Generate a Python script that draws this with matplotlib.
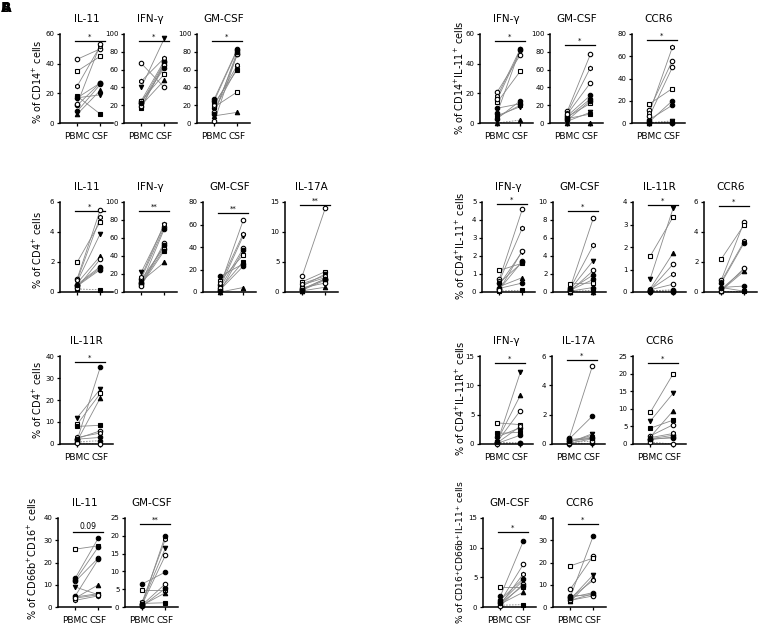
import matplotlib
matplotlib.use("Agg")
import matplotlib.pyplot as plt

# ---- data (PBMC vs CSF, one value per donor) ----
# left column
cd14_il11_pbmc = [43, 8, 35, 18, 6, 17, 25, 12, 13, 17]
cd14_il11_csf = [50, 26, 45, 6, 22, 19, 52, 27, 53, 27]
cd14_ifng_pbmc = [67, 25, 25, 17, 20, 40, 47, 22, 19, 23]
cd14_ifng_csf = [40, 70, 55, 67, 48, 95, 73, 68, 65, 62]
cd14_gmcsf_pbmc = [2, 27, 18, 22, 8, 15, 20, 25, 12, 10]
cd14_gmcsf_csf = [78, 83, 35, 60, 12, 62, 65, 82, 77, 80]

cd4_il11_pbmc = [0.9, 0.5, 2.0, 0.2, 0.6, 0.7, 0.8, 0.4, 0.3, 0.45]
cd4_il11_csf = [5.5, 1.7, 4.7, 0.15, 2.4, 3.9, 5.0, 1.5, 2.2, 1.6]
cd4_ifng_pbmc = [15, 10, 14, 8, 12, 22, 17, 9, 7, 11]
cd4_ifng_csf = [72, 48, 50, 46, 33, 74, 76, 70, 55, 52]
cd4_gmcsf_pbmc = [6, 14, 10, 3, 0, 5, 8, 2, 4, 1]
cd4_gmcsf_csf = [64, 25, 33, 27, 4, 50, 52, 23, 39, 37]
cd4_il17a_pbmc = [2.7, 0.5, 1.7, 1.2, 0.2, 1.0, 1.4, 0.3, 0.7, 0.4]
cd4_il17a_csf = [14, 2.2, 3.4, 2.4, 0.8, 3.0, 2.7, 2.0, 1.5, 2.2]

cd4_il11r_pbmc = [2.5, 2, 9, 8, 1.5, 12, 3, 1, 0.5, 2.2]
cd4_il11r_csf = [6, 35, 23, 8.5, 21, 25, 5, 1.5, 0, 3]

cd66_il11_pbmc = [11.5, 13, 26, 4.5, 4, 9, 3, 5, 4, 12]
cd66_il11_csf = [22, 31, 27.5, 6, 10, 5.5, 5, 21.5, 5.5, 27]
cd66_gmcsf_pbmc = [0.8, 6.5, 4.7, 1.0, 0.5, 1.2, 1.5, 0.3, 0.6, 0.9]
cd66_gmcsf_csf = [14.5, 9.8, 4.7, 1.2, 4.0, 16.5, 19, 5.2, 6.5, 20]

# right column
cd14il11_ifng_pbmc = [21, 3, 14, 4, 0, 5, 18, 10, 16, 7]
cd14il11_ifng_csf = [46, 15, 35, 12, 2, 11, 50, 13, 49, 50]
cd14il11_gmcsf_pbmc = [13, 8, 7, 5, 0, 2, 11, 6, 10, 3]
cd14il11_gmcsf_csf = [77, 31, 22, 10, 0, 12, 62, 27, 45, 25]
cd14il11_ccr6_pbmc = [12, 3, 17, 0.5, 0, 0, 9, 1, 6, 0.3]
cd14il11_ccr6_csf = [56, 16, 31, 1, 0.5, 2, 68, 20, 50, 0]

cd4il11_ifng_pbmc = [0.7, 0.2, 1.2, 0.05, 0.3, 0.4, 0.6, 0.15, 0.1, 0.5]
cd4il11_ifng_csf = [4.6, 0.5, 1.6, 0.1, 0.8, 2.25, 3.55, 1.7, 2.3, 1.65]
cd4il11_gmcsf_pbmc = [0.5, 0.1, 0.9, 0.05, 0, 0.3, 0.4, 0.2, 0.1, 0.3]
cd4il11_gmcsf_csf = [8.2, 0.5, 1.0, 0.2, 0, 3.5, 5.2, 1.4, 2.4, 1.9]
cd4il11_il11r_pbmc = [0.1, 0.05, 1.6, 0.08, 0.15, 0.6, 0.12, 0.02, 0.1, 0.05]
cd4il11_il11r_csf = [1.25, 0.1, 3.35, 0.05, 1.75, 3.75, 0.8, 0.02, 0.35, 0.05]
cd4il11_ccr6_pbmc = [0.8, 0.3, 2.2, 0.05, 0.1, 0.2, 0.7, 0.6, 0.1, 0.3]
cd4il11_ccr6_csf = [4.7, 0.4, 4.5, 0.05, 1.4, 1.5, 3.4, 3.3, 1.6, 0.05]

cd4il11r_ifng_pbmc = [0.4, 1.2, 3.6, 1.8, 0.6, 0.3, 0.2, 0.1, 0, 0.3]
cd4il11r_ifng_csf = [5.7, 2.8, 3.3, 2.0, 8.3, 12.2, 3.0, 1.5, 0.1, 0.2]
cd4il11r_il17a_pbmc = [0.4, 0.35, 0.3, 0.2, 0.15, 0.1, 0.05, 0, 0.1, 0.2]
cd4il11r_il17a_csf = [5.3, 1.9, 0.45, 0.4, 0.6, 0.7, 0.35, 0.05, 0.2, 0.4]
cd4il11r_ccr6_pbmc = [2.3, 1.5, 9, 4.5, 2, 6.5, 1.8, 1.2, 0.5, 1.5]
cd4il11r_ccr6_csf = [5.5, 2.5, 20, 6.8, 9.5, 14.5, 3, 2, 0, 1.7]

cd16il11_gmcsf_pbmc = [0.9, 1.8, 3.4, 0.3, 0.5, 0.7, 0.4, 1.2, 0.2, 0.6]
cd16il11_gmcsf_csf = [7.2, 11.1, 3.4, 0.4, 2.5, 4.5, 5.6, 4.8, 3.9, 3.6]
cd16il11_ccr6_pbmc = [8, 4.5, 18.5, 3, 2.5, 3.5, 4, 5, 3, 4.2]
cd16il11_ccr6_csf = [23, 32, 22, 6, 13, 14.5, 12, 5.5, 5, 6.5]

groups = ["PBMC", "CSF"]

# donor symbols (marker, face colour)
donor_style = [("o", "white"), ("o", "black"), ("s", "white"), ("s", "black"),
               ("^", "black"), ("v", "black"), ("h", "white"), ("o", "black"),
               ("o", "white"), ("o", "black")]

W, H = 767, 630
fig = plt.figure(figsize=(W / 100, H / 100), dpi=100)

rows = {1: (34, 123), 2: (202, 292), 3: (356, 444), 4: (518, 607)}


def panel(x0, row, pbmc, csf, ymax, step, title, sig, bar=0.92, labels=True):
    top, bot = rows[row]
    ax = fig.add_axes([x0 / W, 1 - bot / H, 53 / W, (bot - top) / H])
    for i, (a, b) in enumerate(zip(pbmc, csf)):
        dashed = max(a, b) < 0.04 * ymax
        ax.plot([0, 1], [a, b], color="#8a8a8a", lw=0.6,
                ls=(0, (2, 1.5)) if dashed else "-", zorder=1)
        m, fc = donor_style[i % len(donor_style)]
        ax.plot([0, 1], [a, b], ls="none", marker=m, ms=3.2, mfc=fc,
                mec="black", mew=0.8, clip_on=False, zorder=3)
    ax.set_xlim(-0.75, 1.55)
    ax.set_ylim(0, ymax)
    ticks = [step * k for k in range(int(round(ymax / step)) + 1)]
    ax.set_yticks(ticks)
    ax.set_yticklabels([f"{t:g}" for t in ticks], fontsize=5)
    ax.set_xticks([0, 1])
    ax.set_xticklabels(groups if labels else ["", ""], fontsize=6.5)
    for s in ("top", "right"):
        ax.spines[s].set_visible(False)
    for s in ("left", "bottom"):
        ax.spines[s].set_linewidth(1.1)
    ax.tick_params(length=2.5, width=0.9, pad=1.5)
    ax.tick_params(axis="x", pad=4)
    ax.set_title(title, fontsize=7.5, pad=9)
    yb = bar * ymax
    ax.plot([-0.1, 1.2], [yb, yb], color="black", lw=0.9, clip_on=False)
    ax.text(0.55, yb + 0.015 * ymax, sig, ha="center", va="bottom",
            fontsize=5 if sig != "0.09" else 5.5)
    return ax


def ylabel(x, yc, text, size=7):
    fig.text(x / W, 1 - yc / H, text, rotation=90,
             ha="center", va="center", fontsize=size)


# left column
panel(60, 1, cd14_il11_pbmc, cd14_il11_csf, 60, 20, "IL-11", "*")
panel(124, 1, cd14_ifng_pbmc, cd14_ifng_csf, 100, 20, "IFN-γ", "*")
panel(197, 1, cd14_gmcsf_pbmc, cd14_gmcsf_csf, 100, 20, "GM-CSF", "*")
ylabel(37, 82, "% of CD14$^{+}$ cells")

panel(60, 2, cd4_il11_pbmc, cd4_il11_csf, 6, 2, "IL-11", "*", 0.9, False)
panel(124, 2, cd4_ifng_pbmc, cd4_ifng_csf, 100, 20, "IFN-γ", "**", 0.9, False)
panel(203, 2, cd4_gmcsf_pbmc, cd4_gmcsf_csf, 80, 20, "GM-CSF", "**", 0.88, False)
panel(285, 2, cd4_il17a_pbmc, cd4_il17a_csf, 15, 5, "IL-17A", "**", 0.97, False)
ylabel(37, 250, "% of CD4$^{+}$ cells")

panel(60, 3, cd4_il11r_pbmc, cd4_il11r_csf, 40, 10, "IL-11R", "*", 0.93)
ylabel(37, 400, "% of CD4$^{+}$ cells")

panel(58, 4, cd66_il11_pbmc, cd66_il11_csf, 40, 10, "IL-11", "0.09", 0.84)
panel(125, 4, cd66_gmcsf_pbmc, cd66_gmcsf_csf, 25, 5, "GM-CSF", "**", 0.93)
ylabel(32, 558, "% of CD66b$^{+}$CD16$^{+}$ cells")

# right column
panel(480, 1, cd14il11_ifng_pbmc, cd14il11_ifng_csf, 60, 20, "IFN-γ", "*")
panel(550, 1, cd14il11_gmcsf_pbmc, cd14il11_gmcsf_csf, 100, 20, "GM-CSF", "*", 0.88)
panel(632, 1, cd14il11_ccr6_pbmc, cd14il11_ccr6_csf, 80, 20, "CCR6", "*", 0.93)
ylabel(459, 78, "% of CD14$^{+}$IL-11$^{+}$ cells")

panel(482, 2, cd4il11_ifng_pbmc, cd4il11_ifng_csf, 5, 1, "IFN-γ", "*", 0.98, False)
panel(553, 2, cd4il11_gmcsf_pbmc, cd4il11_gmcsf_csf, 10, 2, "GM-CSF", "*", 0.9, False)
panel(633, 2, cd4il11_il11r_pbmc, cd4il11_il11r_csf, 4, 1, "IL-11R", "*", 0.97, False)
panel(704, 2, cd4il11_ccr6_pbmc, cd4il11_ccr6_csf, 6, 2, "CCR6", "*", 0.96, False)
ylabel(460, 246, "% of CD4$^{+}$IL-11$^{+}$ cells")

panel(480, 3, cd4il11r_ifng_pbmc, cd4il11r_ifng_csf, 15, 5, "IFN-γ", "*", 0.92)
panel(552, 3, cd4il11r_il17a_pbmc, cd4il11r_il17a_csf, 6, 2, "IL-17A", "*", 0.95)
panel(633, 3, cd4il11r_ccr6_pbmc, cd4il11r_ccr6_csf, 25, 5, "CCR6", "*", 0.92)
ylabel(460, 398, "% of CD4$^{+}$IL-11R$^{+}$ cells")

panel(483, 4, cd16il11_gmcsf_pbmc, cd16il11_gmcsf_csf, 15, 5, "GM-CSF", "*", 0.84)
panel(553, 4, cd16il11_ccr6_pbmc, cd16il11_ccr6_csf, 40, 10, "CCR6", "*", 0.93)
ylabel(460, 552, "% of CD16$^{+}$CD66b$^{+}$IL-11$^{+}$ cells", 6.6)

# overlapping panel letters in the corner
fig.text(1 / W, 1 - 1 / H, "A", fontsize=10, fontweight="bold", va="top")
fig.text(1 / W, 1 - 1 / H, "B", fontsize=10, fontweight="bold", va="top")

fig.savefig("out.png", dpi=100)
